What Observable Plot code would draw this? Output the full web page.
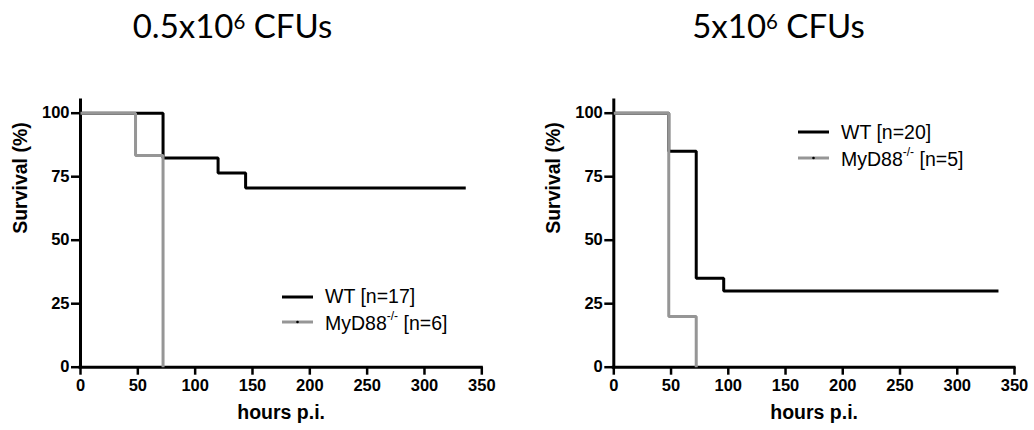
<!DOCTYPE html>
<html>
<head>
<meta charset="utf-8">
<script src="https://cdn.jsdelivr.net/npm/d3@7"></script>
<script src="https://cdn.jsdelivr.net/npm/@observablehq/plot@0.6"></script>
<style>
  html, body { margin: 0; padding: 0; background: #fff; }
  #wrap { position: relative; width: 1034px; height: 430px; overflow: hidden; }
  .title { position: absolute; top: 9px; transform: translateX(-50%); white-space: nowrap;
           font-family: Lato, "Open Sans", sans-serif; font-size: 33px; line-height: 33px; color: #000; }
  .title sup { font-size: 0.62em; position: relative; top: -0.42em; vertical-align: baseline; line-height: 0; }
  .panel { position: absolute; top: 80px; }
  .panel svg g[aria-label$="tick label"] { font-size: 16.5px; font-weight: bold; }
  .leg { position: absolute; display: flex; align-items: center; height: 24px;
         font-family: "Liberation Sans", Arial, sans-serif; font-size: 19.5px; color: #000; white-space: nowrap; }
  .leg svg { margin-right: 12px; }
  .leg sup { font-size: 12px; position: relative; top: -2px; }
</style>
</head>
<body>
<div id="wrap"></div>
<script>
// ---- data ----
const titles = ["0.5x10", "5x10"];
const xTicks = [0, 50, 100, 150, 200, 250, 300, 350];
const yTicks = [0, 25, 50, 75, 100];
const seriesNames = ["WT", "MyD88"];
const colors = ["#000000", "#969696"];

// 0.5x10^6 CFUs
const lowTimeWT = [0, 72, 120, 144, 336];
const lowSurvWT = [100, 82.35, 76.47, 70.59, 70.59];
const lowTimeMy = [0, 48, 72];
const lowSurvMy = [100, 83.33, 0];
const lowN = [17, 6];

// 5x10^6 CFUs
const highTimeWT = [0, 48, 72, 96, 336];
const highSurvWT = [100, 85, 35, 30, 30];
const highTimeMy = [0, 48, 72];
const highSurvMy = [100, 20, 0];
const highN = [20, 5];

const toRows = (t, s, name) => t.map((d, i) => ({time: d, surv: s[i], series: name}));

function makePlot(wt, my, marginLeft, marginRight) {
  return Plot.plot({
    width: 517,
    height: 350,
    marginTop: 20,
    marginBottom: 63.3,
    marginLeft,
    marginRight,
    style: {fontFamily: '"Liberation Sans", Arial, sans-serif', fontWeight: "bold", fontSize: "17px", color: "#000", background: "transparent", overflow: "visible"},
    x: {domain: [0, 350]},
    y: {domain: [0, 105]},
    marks: [
      Plot.axisX(xTicks, {tickSize: 8, tickPadding: 4, strokeWidth: 2.5, fontSize: 17, fontWeight: "bold", label: null}),
      Plot.axisY(yTicks, {tickSize: 9, tickPadding: 2, strokeWidth: 2.5, fontSize: 17, fontWeight: "bold", label: null}),
      Plot.ruleX([0], {strokeWidth: 3, strokeLinecap: "square"}),
      Plot.ruleY([0], {strokeWidth: 3, strokeLinecap: "square"}),
      Plot.line(wt, {x: "time", y: "surv", curve: "step-after", stroke: colors[0], strokeWidth: 3, strokeLinejoin: "miter", strokeLinecap: "butt"}),
      Plot.line(my, {x: "time", y: "surv", curve: "step-after", stroke: colors[1], strokeWidth: 3, strokeLinejoin: "miter", strokeLinecap: "butt"}),
      Plot.text(["hours p.i."], {frameAnchor: "bottom", lineAnchor: "middle", dy: 46, fontSize: 19.5, fontWeight: "bold"}),
      Plot.text(["Survival (%)"], {frameAnchor: "left", rotate: -90, dx: -60, fontSize: 19.5, fontWeight: "bold"})
    ]
  });
}

const wrap = document.getElementById("wrap");

function addTitle(base, cx) {
  const d = document.createElement("div");
  d.className = "title";
  d.style.left = cx + "px";
  d.innerHTML = base + "<sup>6</sup> CFUs";
  wrap.appendChild(d);
}

function addLegend(x, y0, y1, nArr) {
  const rows = [[y0, seriesNames[0], nArr[0], colors[0]], [y1, seriesNames[1], nArr[1], colors[1]]];
  rows.forEach(([y, name, n, c], i) => {
    const d = document.createElement("div");
    d.className = "leg";
    d.style.left = x + "px";
    d.style.top = (y - 12) + "px";
    const dot = i === 1 ? '<circle cx="15.5" cy="12" r="1.3" fill="#000"/>' : "";
    const label = i === 1 ? 'MyD88<sup>-/-</sup> [n=' + n + ']' : name + ' [n=' + n + ']';
    d.innerHTML = '<svg width="31" height="24"><line x1="0" x2="31" y1="12" y2="12" stroke="' + c + '" stroke-width="3"/>' + dot + '</svg><span>' + label + '</span>';
    wrap.appendChild(d);
  });
}

const p1 = document.createElement("div");
p1.className = "panel"; p1.style.left = "0px";
p1.appendChild(makePlot(toRows(lowTimeWT, lowSurvWT, "WT"), toRows(lowTimeMy, lowSurvMy, "MyD88"), 80, 35.7));
wrap.appendChild(p1);

const p2 = document.createElement("div");
p2.className = "panel"; p2.style.left = "517px";
p2.appendChild(makePlot(toRows(highTimeWT, highSurvWT, "WT"), toRows(highTimeMy, highSurvMy, "MyD88"), 96.3, 20));
wrap.appendChild(p2);

addTitle(titles[0], 232.5);
addTitle(titles[1], 778.5);
addLegend(282, 296.7, 322.3, lowN);
addLegend(798, 132.3, 158.3, highN);
</script>
</body>
</html>
